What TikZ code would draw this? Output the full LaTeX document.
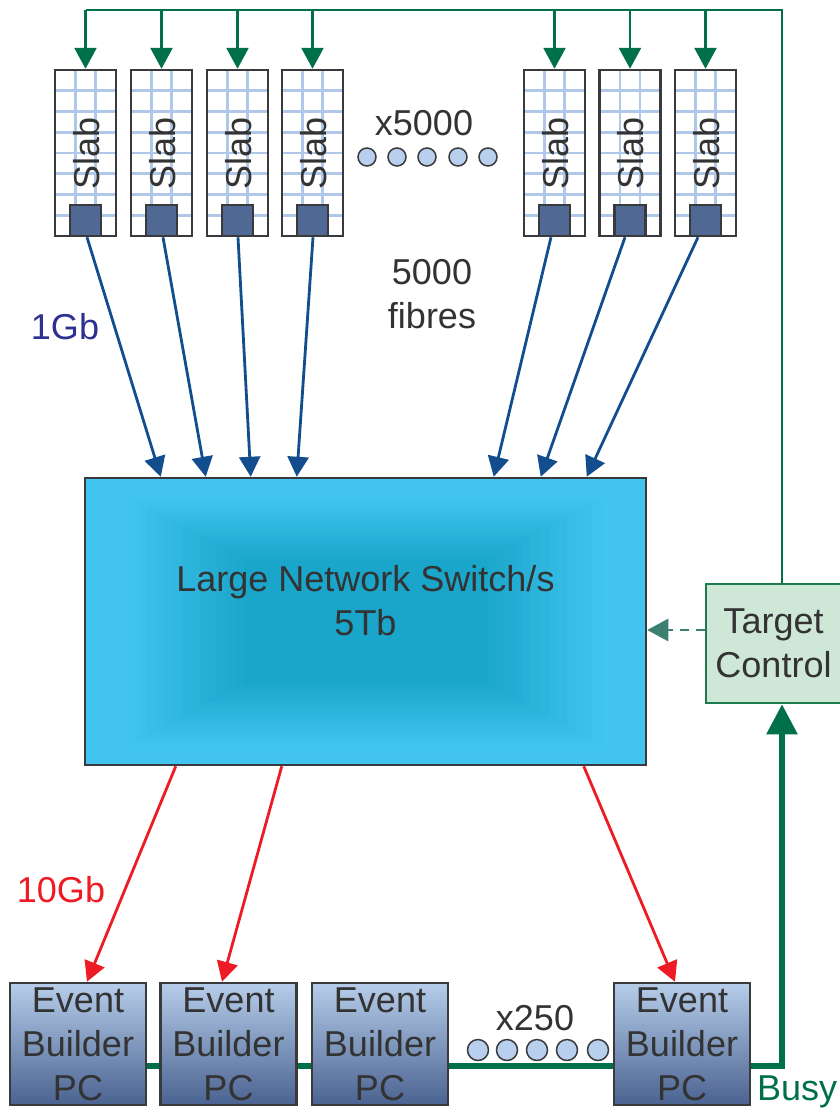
\documentclass[tikz,border=0pt]{standalone}
\usepackage{fontspec}
\setmainfont{Liberation Sans}
\usetikzlibrary{arrows.meta,calc}

\definecolor{txt}{HTML}{333333}
\definecolor{edge}{HTML}{3A3A3C}
\definecolor{gridblue}{HTML}{AFC7E9}
\definecolor{chipfill}{HTML}{4F6894}
\definecolor{ctrlgreen}{HTML}{00704A}
\definecolor{tcfill}{HTML}{CEE7D6}
\definecolor{tcedge}{HTML}{1F7A4D}
\definecolor{dashteal}{HTML}{3B8070}
\definecolor{fibreblue}{HTML}{124D8E}
\definecolor{gbpurple}{HTML}{2E3192}
\definecolor{linkred}{HTML}{ED1C24}
\definecolor{swout}{HTML}{41C5F0}
\definecolor{swin}{HTML}{1AA5CA}
\definecolor{ebtop}{HTML}{B6CDEA}
\definecolor{ebbot}{HTML}{4A6290}
\definecolor{dotfill}{HTML}{B8D0EE}

\begin{document}
\begin{tikzpicture}[x=1pt,y=-1pt,
  bigfont/.style={font=\fontsize{36}{44}\selectfont},
  slabbox/.style={draw=edge, line width=2.5, fill=white, inner sep=0,
    minimum width=61, minimum height=166,
    path picture={
      \foreach \k in {1,2}{
        \draw[gridblue, line width=2.6]
          ([xshift=\k*20.33]path picture bounding box.north west) --
          ([xshift=\k*20.33]path picture bounding box.south west);}
      \foreach \k in {1,...,7}{
        \draw[gridblue, line width=2.6]
          ([yshift=-\k*20.75]path picture bounding box.north west) --
          ([yshift=-\k*20.75]path picture bounding box.north east);}
    }},
  slabtxt/.style={bigfont, text=txt, rotate=90, inner sep=0},
  chipbox/.style={draw=edge, line width=2.2, fill=chipfill, inner sep=0,
    minimum width=31, minimum height=31},
  ebbox/.style={draw=edge, line width=2.5, top color=ebtop, bottom color=ebbot,
    minimum width=136, minimum height=122, inner sep=0, align=center,
    bigfont, text=txt},
  dotc/.style={draw=edge, line width=1.5, fill=dotfill, circle, inner sep=0},
  ctrl/.style={ctrlgreen, line width=2.8},
  ctrlarrow/.style={ctrl, -{Triangle[length=21,width=22]}},
  fibre/.style={fibreblue, line width=2.8, -{Triangle[length=20,width=21]}},
  tenG/.style={linkred, line width=2.8, -{Triangle[length=20,width=21]}},
  busyline/.style={ctrlgreen, line width=5.5},
]
\useasboundingbox (0,0) rectangle (839,1109);

% ---- detector slabs with their readout chips ----
\foreach \n/\x in {1/85.5, 2/161.5, 3/237.5, 4/312.5, 5/554.5, 6/630, 7/705.5}{
  \node[slabbox] (s\n) at (\x,153) {};
  \node[slabtxt] (s\n t) at ([xshift=1]s\n.center) {Slab};
  \node[chipbox, anchor=south] (c\n) at (s\n.south) {};
}

\node[bigfont, text=txt, inner sep=0] (mult) at (424,123) {x5000};
\foreach \i/\x in {1/367, 2/397, 3/427, 4/458, 5/488}
  \node[dotc, minimum size=18] (d\i) at (\x,157) {};

\node[bigfont, text=txt, align=center, inner sep=0] (fib) at (432,294) {5000\\fibres};
\node[bigfont, text=gbpurple, inner sep=0] (oneG) at (65,327) {1Gb};

% ---- central switch with rectangular shading ----
\node[draw=edge, line width=2.5, fill=swout, minimum width=561, minimum height=287,
  inner sep=0,
  path picture={
    \foreach \i in {1,...,14}{
      \pgfmathsetmacro\t{\i/14}
      \pgfmathtruncatemacro\p{100*\t}
      \pgfmathsetmacro\w{245-(245-122)*\t}
      \pgfmathsetmacro\h{128-(128-62)*\t}
      \fill[swin!\p!swout]
        ($(path picture bounding box.center)+(-\w,-\h)$) rectangle
        ($(path picture bounding box.center)+(\w,\h)$);
    }
  }] (sw) at (365.5,621.5) {};
\node[bigfont, text=txt, align=center, inner sep=0] (swl) at ([yshift=21]sw.center)
  {Large Network Switch/s\\5Tb};

% ---- target control ----
\node[draw=tcedge, line width=2.5, fill=tcfill, minimum width=135, minimum height=119,
  inner sep=0, align=center, bigfont, text=txt] (tc) at (773.5,643.5) {Target\\Control};

% ---- event builders ----
\node[ebbox] (e1) at (78,1044) {Event\\Builder\\PC};
\node[ebbox] (e2) at (228.5,1044) {Event\\Builder\\PC};
\node[ebbox] (e3) at (380,1044) {Event\\Builder\\PC};
\node[ebbox] (e4) at (682,1044) {Event\\Builder\\PC};

\node[bigfont, text=txt, inner sep=0] (mult2) at (535,1018) {x250};
\foreach \i/\x in {1/478, 2/507, 3/537, 4/567, 5/598}
  \node[dotc, minimum width=19, minimum height=21] (f\i) at (\x,1050) {};

\node[bigfont, text=linkred, inner sep=0] (tenGl) at (61,890) {10Gb};
\node[bigfont, text=ctrlgreen, inner sep=0, anchor=base west] (busy) at (757,1100) {Busy};

% ---- control distribution to the slabs ----
\coordinate (tl) at (86,10);
\coordinate (tr) at (782,10);
\draw[ctrl, line join=miter] (tc.north -| tr) -- (tr) -- (tl);
\foreach \n in {1,...,7}
  \draw[ctrlarrow] (s\n.north |- tl) -- (s\n.north);

% ---- fibre links into the switch ----
\foreach \n/\sx/\ex in {1/1.5/77, 2/1.5/122, 3/0.5/167, 4/0.5/213, 5/-3.5/410, 6/-5/457, 7/-7.5/503}
  \draw[fibre] ([xshift=\sx]c\n.south) -- ([xshift=\ex]sw.south west |- sw.north);

% ---- 10Gb links to the event builders ----
\draw[tenG] ([xshift=92]sw.south west) -- ([xshift=9]e1.north);
\draw[tenG] ([xshift=198]sw.south west) -- ([xshift=-6.5]e2.north);
\draw[tenG] ([xshift=500]sw.south west) -- ([xshift=-7]e4.north);

% ---- busy chain back to target control ----
\coordinate (bc) at (782,1066);
\draw[busyline] ([yshift=-22]e1.east) -- ([yshift=-22]e2.west);
\draw[busyline] ([yshift=-22]e2.east) -- ([yshift=-22]e3.west);
\draw[busyline] ([yshift=-22]e3.east) -- ([yshift=-22]e4.west);
\draw[busyline, line join=miter, -{Triangle[length=30,width=30]}]
  ([yshift=-22]e4.east) -- (bc) -- (bc |- tc.south);

% ---- trigger hint from target control to the switch ----
\draw[dashteal, line width=2.8, dash pattern=on 9 off 7, -{Triangle[length=21,width=22]}]
  ([yshift=13.5]tc.west) -- ([yshift=13.5]tc.west -| sw.east);
\end{tikzpicture}
\end{document}
